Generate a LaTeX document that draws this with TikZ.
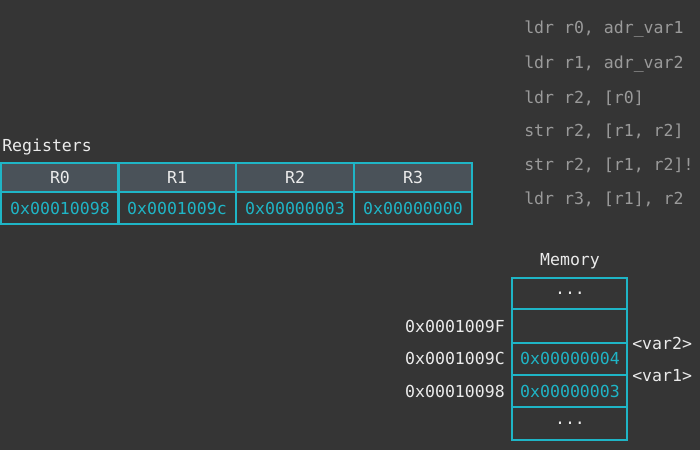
\documentclass[tikz,border=0pt]{standalone}
\usepackage{fontspec}
\setmonofont{DejaVu Sans Mono}
\begin{document}
\begin{tikzpicture}[x=0.75pt,y=-0.75pt,
  txt/.style={font=\ttfamily\fontsize{12.4}{14}\selectfont, text=white!92!black, inner sep=0pt},
  code/.style={txt, text=codegray, anchor=west},
  val/.style={txt, text=cyanc},
  cell/.style={draw=cyanc, line width=1.5pt}]
\definecolor{bg}{HTML}{353535}
\definecolor{cyanc}{HTML}{1FB5C6}
\definecolor{hdr}{HTML}{4A5259}
\definecolor{codegray}{HTML}{9A9A9A}
\fill[bg] (0,0) rectangle (700,450);
\useasboundingbox (0,0) rectangle (700,450);
% code
\node[code] (c1) at (524,29) {ldr r0, adr\_var1};
\node[code] (c2) at (524,64) {ldr r1, adr\_var2};
\node[code] (c3) at (524,98) {ldr r2, [r0]};
\node[code] (c4) at (524,131) {str r2, [r1, r2]};
\node[code] (c5) at (524,165) {str r2, [r1, r2]!};
\node[code] (c6) at (524,199) {ldr r3, [r1], r2};
% registers
\node[txt, anchor=west] (reg) at (2,147) {Registers};
\fill[hdr] (1,163) rectangle (472,192);
\foreach \i/\x/\r/\v in {0/1/R0/0x00010098,1/118/R1/0x0001009c,2/236/R2/0x00000003,3/354/R3/0x00000000}{
  \draw[cell] (\x,163) rectangle ++(118,29);
  \draw[cell] (\x,192) rectangle ++(118,32);
  \node[txt] (h\i) at (\x+59,177.5) {\r};
  \node[val] (v\i) at (\x+59,208) {\v};
}
% memory
\node[txt] (mem) at (570,261) {Memory};
\draw[cell] (512,278) rectangle (627,309);
\draw[cell] (512,309) rectangle (627,343);
\draw[cell] (512,343) rectangle (627,375);
\draw[cell] (512,375) rectangle (627,407);
\draw[cell] (512,407) rectangle (627,440);
\node[txt] (d1) at (570,293) {...};
\node[val] (m1) at (570,358) {0x00000004};
\node[val] (m2) at (570,391) {0x00000003};
\node[txt] (d2) at (570,423) {...};
\node[txt, anchor=east] (a1) at (505,326) {0x0001009F};
\node[txt, anchor=east] (a2) at (505,358) {0x0001009C};
\node[txt, anchor=east] (a3) at (505,391) {0x00010098};
\node[txt, anchor=west] (var2) at (632,343) {<var2>};
\node[txt, anchor=west] (var1) at (632,376) {<var1>};
\end{tikzpicture}
\end{document}
